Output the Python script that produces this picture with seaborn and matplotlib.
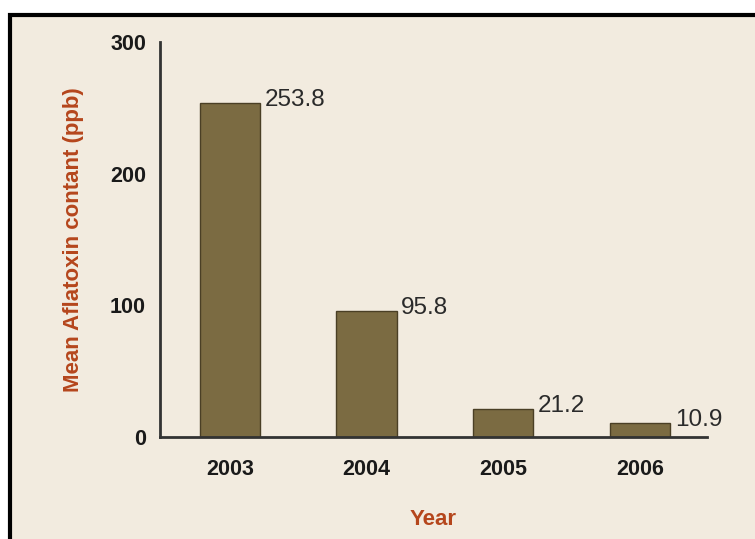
import matplotlib
matplotlib.use("Agg")
import matplotlib.pyplot as plt
import seaborn as sns
import pandas as pd
from matplotlib.patches import Rectangle

years = ["2003", "2004", "2005", "2006"]
aflatoxin = [253.8, 95.8, 21.2, 10.9]
y_ticks = [0, 100, 200, 300]

bg = "#f2ebdf"
bar_color = "#7b6b42"
label_color = "#b5461c"

sns.set_theme(style="white")
plt.rcParams["font.family"] = ["Liberation Sans", "DejaVu Sans"]

df = pd.DataFrame({"year": years, "value": aflatoxin})

fig = plt.figure(figsize=(7.55, 5.39), dpi=100, facecolor="white")
fig.patches.append(Rectangle((9.5 / 755, -0.1), 1.2, (539 - 15.5) / 539 + 0.1,
                             transform=fig.transFigure, facecolor=bg,
                             edgecolor="black", linewidth=3, zorder=-10))
ax = fig.add_axes([160 / 755, 1 - 437 / 539, (707 - 160) / 755, (437 - 42) / 539])
ax.set_zorder(5)
ax.patch.set_alpha(0)

sns.barplot(data=df, x="year", y="value", color=bar_color, width=0.44,
            saturation=1, edgecolor="#4a3f25", linewidth=1, ax=ax)

for i, v in enumerate(aflatoxin):
    ax.text(i + 0.255, v + 2, f"{v}", ha="left", va="center",
            fontsize=17.5, color="#2a2a2a")

ax.set_xlim(-0.51, 3.49)
ax.set_ylim(0, 300)
ax.set_yticks(y_ticks)
ax.tick_params(axis="both", length=0, labelsize=15.5, colors="#1a1a1a")
ax.tick_params(axis="x", pad=16)
ax.tick_params(axis="y", pad=10)
for lbl in ax.get_xticklabels() + ax.get_yticklabels():
    lbl.set_fontweight("bold")

for s in ["top", "right"]:
    ax.spines[s].set_visible(False)
for s in ["left", "bottom"]:
    ax.spines[s].set_color("#333333")
    ax.spines[s].set_linewidth(2)

ax.set_xlabel("Year", fontsize=16, fontweight="bold", color=label_color, labelpad=21)
ax.set_ylabel("Mean Aflatoxin contant (ppb)", fontsize=16, fontweight="bold",
              color=label_color, labelpad=19)

fig.savefig("out.png", dpi=100, facecolor="white")
